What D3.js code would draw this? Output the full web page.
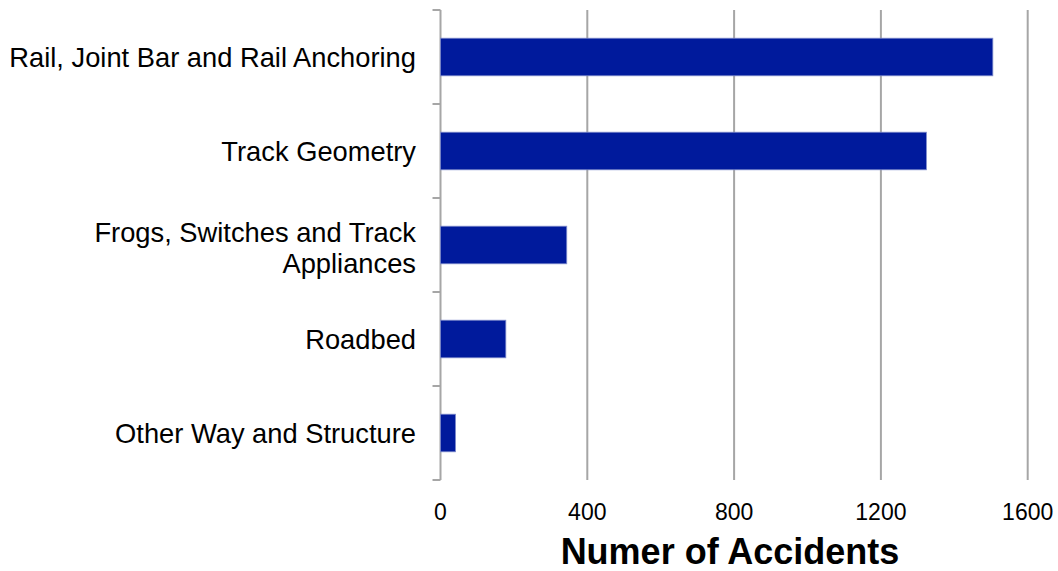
<!DOCTYPE html>
<html>
<head>
<meta charset="utf-8">
<script src="https://cdn.jsdelivr.net/npm/d3@7"></script>
<style>
  html, body { margin: 0; padding: 0; background: #fff; }
  svg { display: block; }
  text { font-family: "Liberation Sans", Arial, sans-serif; fill: #000; }
</style>
</head>
<body>
<svg id="chart" width="1058" height="571"></svg>
<script>
const categories = [
  ["Rail, Joint Bar and Rail Anchoring"],
  ["Track Geometry"],
  ["Frogs, Switches and Track", "Appliances"],
  ["Roadbed"],
  ["Other Way and Structure"]
];
const values = [1505, 1324, 344, 178, 41];
const xTicks = [0, 400, 800, 1200, 1600];
const xTitle = "Numer of Accidents";

const svg = d3.select("#chart");
const pLeft = 440.5, pRight = 1027.7, pTop = 10, pBottom = 480;

const x = d3.scaleLinear().domain([0, 1600]).range([pLeft, pRight]);
const y = d3.scaleBand().domain(d3.range(categories.length)).range([pTop, pBottom]).paddingInner(0.6).paddingOuter(0.3);
const band = d3.scaleBand().domain(d3.range(categories.length)).range([pTop, pBottom]);

// gridlines
svg.append("g").selectAll("line").data(xTicks.slice(1)).join("line")
  .attr("x1", d => x(d)).attr("x2", d => x(d))
  .attr("y1", pTop).attr("y2", pBottom)
  .attr("stroke", "#a6a6a6").attr("stroke-width", 2);

// y axis line
svg.append("line").attr("x1", pLeft).attr("x2", pLeft).attr("y1", pTop).attr("y2", pBottom)
  .attr("stroke", "#a6a6a6").attr("stroke-width", 2);
// y ticks at band boundaries
const bounds = d3.range(categories.length + 1).map(i => pTop + i * band.step());
svg.append("g").selectAll("line").data(bounds).join("line")
  .attr("x1", pLeft - 8).attr("x2", pLeft).attr("y1", d => d).attr("y2", d => d)
  .attr("stroke", "#a6a6a6").attr("stroke-width", 2);

// bars
svg.append("g").selectAll("rect").data(values).join("rect")
  .attr("x", pLeft)
  .attr("y", (d, i) => y(i))
  .attr("width", d => x(d) - pLeft)
  .attr("height", y.bandwidth())
  .attr("fill", "#001a9c")
  .attr("stroke", "#7f8ccc").attr("stroke-width", 0.8);

// category labels
const lab = svg.append("g").selectAll("text").data(categories).join("text")
  .attr("text-anchor", "end")
  .attr("font-size", 27.3)
  .attr("x", 416);
lab.each(function(lines, i) {
  const c = band(i) + band.bandwidth() / 2;
  const t = d3.select(this);
  if (lines.length === 1) {
    t.append("tspan").attr("x", 416).attr("y", c + 10).text(lines[0]);
  } else {
    t.append("tspan").attr("x", 416).attr("y", c - 3).text(lines[0]);
    t.append("tspan").attr("x", 416).attr("y", c + 28).text(lines[1]);
  }
});

// x tick labels
svg.append("g").selectAll("text").data(xTicks).join("text")
  .attr("x", d => x(d)).attr("y", 520)
  .attr("text-anchor", "middle").attr("font-size", 23)
  .text(d => d);

// x title
svg.append("text").attr("x", 730).attr("y", 564)
  .attr("text-anchor", "middle").attr("font-size", 36).attr("font-weight", "bold")
  .text(xTitle);
</script>
</body>
</html>
